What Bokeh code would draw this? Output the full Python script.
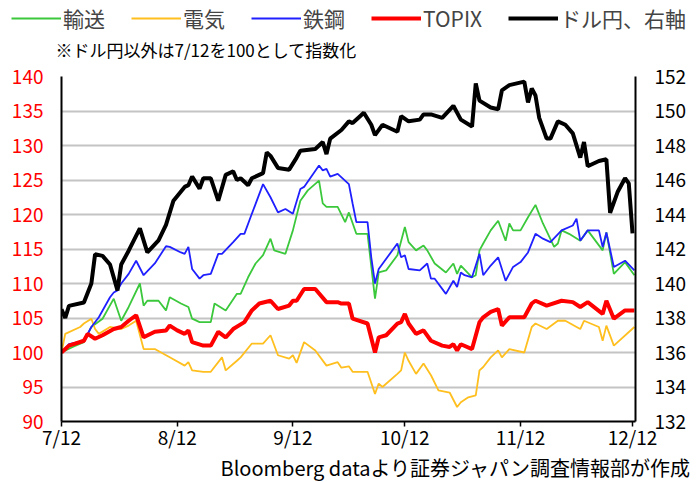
from bokeh.plotting import figure
from bokeh.layouts import column
from bokeh.models import Range1d, LinearAxis, FixedTicker, Legend, LegendItem, Label
from bokeh.embed import file_html
from bokeh.resources import INLINE

# x positions are days counted from 7/12
tick_days = [0, 31, 62, 92, 123, 153]
tick_labels = ["7/12", "8/12", "9/12", "10/12", "11/12", "12/12"]
left_ticks = [90, 95, 100, 105, 110, 115, 120, 125, 130, 135, 140]
right_ticks = [132, 134, 136, 138, 140, 142, 144, 146, 148, 150, 152]

series_names = ["輸送", "電気", "鉄鋼", "TOPIX", "ドル円、右軸"]

transport_days = [0, 3, 6, 8, 11, 14, 16, 18, 21, 22, 23, 26, 28, 29, 32, 34, 35, 37, 40, 41, 44, 47, 48, 50, 52,
                  54, 56, 57, 60, 62, 64, 66, 69, 70, 71, 74, 76, 77, 79, 82, 84, 85, 87, 90, 92, 93, 95, 97, 98, 100,
                  103, 105, 106, 107, 110, 111, 112, 113, 115, 117, 119, 120, 121, 123, 125, 127, 129, 132, 133, 134,
                  136, 139, 141, 145, 146, 148, 151, 153.5]
transport = [100.0, 100.8, 101.5, 103.7, 104.9, 107.8, 104.6, 106.6, 110.0, 106.8, 107.5, 107.5, 106.1, 108.0, 107.1,
             106.6, 104.9, 104.4, 104.4, 107.1, 106.1, 108.5, 108.5, 110.9, 112.9, 114.1, 116.5, 114.8, 114.3, 117.7,
             122.0, 123.5, 124.9, 121.6, 121.1, 121.1, 118.9, 120.3, 117.2, 117.2, 107.8, 111.6, 111.9, 114.1, 118.2,
             116.0, 114.8, 115.5, 114.8, 112.9, 111.6, 112.9, 111.4, 112.6, 110.9, 111.2, 114.8, 115.8, 117.7, 119.1,
             116.2, 118.7, 117.7, 117.7, 119.6, 121.4, 118.7, 115.3, 115.8, 117.7, 117.2, 116.2, 117.7, 114.8, 117.4,
             111.4, 113.1, 111.2]

electric_days = [0, 1, 5, 6, 8, 9, 10, 13, 16, 18, 20, 22, 25, 29, 33, 34, 35, 38, 40, 43, 44, 47, 48, 51, 54, 56, 58,
                 61, 62, 63, 65, 68, 71, 74, 75, 77, 78, 82, 84, 85, 86, 90, 91, 92, 93, 95, 97, 99, 101, 104, 106,
                 107, 109, 111, 112, 113, 115, 117, 118, 120, 124, 126, 127, 130, 133, 135, 139, 140, 144, 145, 146,
                 148, 153.5]
electric = [100.0, 102.7, 103.7, 104.2, 104.9, 103.4, 102.7, 103.7, 103.4, 103.9, 104.6, 100.5, 100.5, 99.3, 98.1,
            98.6, 97.4, 97.2, 97.2, 99.3, 97.4, 98.8, 99.3, 101.3, 101.3, 102.5, 99.6, 99.1, 99.6, 98.5, 101.5, 100.3,
            98.1, 98.6, 97.8, 98.0, 97.2, 97.2, 94.0, 95.5, 95.0, 96.9, 97.4, 100.0, 98.8, 96.9, 98.4, 96.7, 94.5, 94.2,
            92.1, 92.8, 93.5, 93.8, 97.4, 97.9, 99.3, 100.3, 99.3, 100.5, 100.0, 103.7, 104.2, 103.4, 104.6, 104.6,
            103.4, 104.6, 103.7, 101.7, 103.9, 101.0, 103.7]

steel_days = [0, 2, 6, 8, 10, 13, 14, 15, 16, 18, 20, 22, 25, 28, 29, 32, 33, 34, 35, 37, 38, 40, 42, 43, 46, 48, 49,
              51, 54, 56, 58, 60, 62, 64, 65, 69, 70, 71, 72, 74, 77, 78, 79, 82, 83, 84, 85, 90, 91, 92, 93, 96, 98,
              99, 100, 103, 105, 106, 107, 108, 110, 112, 113, 115, 117, 119, 121, 123, 125, 127, 129, 131, 134, 137,
              138, 139, 141, 144, 145, 146, 148, 151, 153.5]
steel = [100.0, 101.2, 101.7, 103.7, 105.1, 108.0, 108.7, 109.0, 110.0, 111.4, 113.3, 111.2, 112.9, 115.4, 115.3,
         114.5, 114.3, 115.3, 112.1, 110.7, 111.2, 111.4, 114.3, 114.3, 116.0, 117.2, 117.2, 120.1, 124.4, 122.5,
         120.3, 120.8, 120.1, 123.7, 124.0, 127.1, 126.4, 126.6, 125.5, 125.9, 124.4, 121.6, 118.9, 118.9, 113.8,
         110.0, 112.1, 115.8, 113.8, 114.1, 112.1, 111.9, 112.9, 110.7, 110.7, 108.5, 110.4, 109.5, 111.6, 111.2,
         110.9, 114.3, 111.2, 112.6, 113.8, 110.4, 112.4, 113.1, 114.5, 117.2, 116.5, 116.0, 117.7, 118.4, 119.4,
         116.2, 117.7, 117.7, 115.3, 117.4, 112.4, 113.3, 111.9]

topix_days = [0, 2, 6, 7, 9, 11, 14, 16, 18, 20, 22, 25, 28, 29, 31, 33, 34, 35, 38, 40, 42, 44, 46, 49, 51, 53, 56,
              58, 61, 62, 63, 65, 68, 71, 74, 75, 77, 78, 82, 84, 85, 87, 90, 91, 92, 93, 95, 97, 99, 102, 104, 105,
              106, 107, 110, 112, 113, 115, 117, 118, 120, 124, 126, 127, 130, 134, 137, 139, 141, 145, 146, 148, 151,
              153.5]
topix = [100.0, 101.0, 101.7, 102.7, 102.0, 102.5, 103.4, 103.7, 104.6, 105.4, 102.2, 103.0, 103.2, 103.9, 103.2,
         102.7, 103.2, 101.5, 101.0, 101.0, 103.0, 102.2, 103.4, 104.4, 106.1, 107.1, 107.5, 106.3, 106.8, 107.5,
         107.5, 109.2, 109.2, 107.3, 107.3, 107.1, 107.1, 104.9, 104.2, 100.0, 102.2, 102.5, 104.2, 104.4, 105.6,
         104.2, 102.7, 103.2, 101.7, 101.0, 100.8, 101.2, 100.3, 101.2, 100.5, 104.4, 105.1, 105.9, 106.3, 103.9,
         105.1, 105.1, 107.1, 107.5, 106.8, 107.5, 107.3, 106.6, 107.3, 105.6, 107.5, 104.9, 106.1, 106.1]

usdjpy_days = [0, 1, 2, 6, 8, 9, 11, 13, 15, 16, 18, 21, 23, 26, 28, 30, 33, 34, 35, 37, 38, 40, 42, 44, 46, 47, 48,
               50, 51, 54, 55, 56, 58, 61, 63, 64, 68, 70, 71, 72, 75, 77, 78, 80, 81, 83, 84, 86, 90, 91, 93, 96, 97,
               99, 102, 105, 107, 110, 111, 112, 115, 117, 118, 120, 124, 125, 126, 127, 128, 130, 131, 133, 135, 137,
               139, 140, 141, 144, 146, 147, 149, 151, 152, 153]
usdjpy = [138.5, 138.0, 138.7, 138.9, 140.0, 141.7, 141.6, 141.1, 139.6, 141.1, 141.9, 143.2, 141.8, 142.5, 143.4,
          144.8, 145.6, 145.7, 146.2, 145.5, 146.1, 146.1, 144.8, 146.3, 146.5, 146.0, 146.1, 145.7, 146.1, 146.4,
          147.6, 147.4, 146.7, 146.6, 147.3, 147.7, 147.8, 148.2, 147.5, 148.4, 148.9, 149.4, 149.3, 149.7, 149.9,
          149.2, 148.6, 149.2, 148.8, 149.7, 149.4, 149.5, 149.8, 149.8, 149.6, 150.3, 149.5, 149.1, 151.6, 150.6,
          150.2, 150.1, 151.2, 151.5, 151.7, 150.5, 151.3, 150.9, 149.6, 148.4, 148.4, 149.4, 149.2, 148.7, 147.3,
          148.2, 146.8, 147.1, 147.2, 144.1, 145.3, 146.1, 145.8, 142.9]

FONT = "Noto Sans CJK JP"
styles = [dict(line_color="#3cc83c", line_width=1.8),
          dict(line_color="#ffbf1f", line_width=1.8),
          dict(line_color="#2020ff", line_width=1.8),
          dict(line_color="#ff0000", line_width=4),
          dict(line_color="black", line_width=4)]

# ---------- header: legend + note ----------
hdr = figure(width=696, height=62, x_range=Range1d(0, 1), y_range=Range1d(0, 1),
             output_backend="svg", toolbar_location=None, x_axis_location=None, y_axis_location=None,
             min_border=0)
hdr.frame_align = False
hdr.outline_line_color = None
hdr.grid.visible = False
# legend keys only (no visible points: NaN)
key_renderers = [hdr.line(x=[float("nan")], y=[float("nan")], **st) for st in styles]
legend = Legend(items=[LegendItem(label=n, renderers=[r]) for n, r in zip(series_names, key_renderers)],
                location=(11, 29), orientation="horizontal", glyph_width=50, glyph_height=30,
                label_standoff=2, spacing=26, padding=0, margin=0,
                border_line_color=None, background_fill_alpha=0,
                label_text_font=FONT, label_text_font_size="21px", label_height=30)
hdr.add_layout(legend, "center")
note = Label(x=55, y=13, x_units="screen", y_units="screen",
             text="※ドル円以外は7/12を100として指数化", text_font=FONT, text_font_size="17px",
             text_baseline="middle", text_align="left", text_color="black")
hdr.add_layout(note)

# ---------- main chart ----------
p = figure(width=696, height=390, x_range=Range1d(0, 153.8), y_range=Range1d(90, 140),
           output_backend="svg", toolbar_location=None,
           min_border_left=61, min_border_right=61, min_border_top=14, min_border_bottom=31)
p.frame_align = False
p.extra_y_ranges = {"usd": Range1d(132, 152)}
p.outline_line_color = None

p.xaxis.ticker = FixedTicker(ticks=tick_days)
p.xaxis.major_label_overrides = {d: lab for d, lab in zip(tick_days, tick_labels)}
p.xaxis.axis_line_width = 2
p.xaxis.axis_line_color = "black"
p.xaxis.major_tick_out = 5
p.xaxis.major_tick_in = 0
p.xaxis.major_tick_line_width = 1.5
p.xaxis.minor_tick_line_color = None
p.xaxis.major_label_standoff = -4
p.xaxis.major_label_text_font = FONT
p.xaxis.major_label_text_font_size = "19px"
p.xaxis.major_label_text_color = "black"
p.xgrid.visible = False

p.yaxis.ticker = FixedTicker(ticks=left_ticks)
p.yaxis.axis_line_width = 2
p.yaxis.axis_line_color = "black"
p.yaxis.major_tick_line_color = None
p.yaxis.major_tick_out = 0
p.yaxis.major_tick_in = 0
p.yaxis.minor_tick_line_color = None
p.yaxis.major_label_standoff = 18
p.yaxis.major_label_text_font = FONT
p.yaxis.major_label_text_font_size = "19px"
p.yaxis.major_label_text_color = "#ff0000"
p.ygrid.grid_line_color = "#c4c4c4"
p.ygrid.grid_line_width = 2

raxis = LinearAxis(y_range_name="usd", ticker=FixedTicker(ticks=right_ticks))
raxis.axis_line_width = 2
raxis.axis_line_color = "black"
raxis.major_tick_line_color = None
raxis.major_tick_out = 0
raxis.major_tick_in = 0
raxis.minor_tick_line_color = None
raxis.major_label_standoff = 19
raxis.major_label_text_font = FONT
raxis.major_label_text_font_size = "19px"
raxis.major_label_text_color = "black"
p.add_layout(raxis, "right")

p.line(transport_days, transport, **styles[0])
p.line(electric_days, electric, **styles[1])
p.line(steel_days, steel, **styles[2])
p.line(topix_days, topix, **styles[3])
p.line(usdjpy_days, usdjpy, y_range_name="usd", **styles[4])

# ---------- footer: source ----------
ftr = figure(width=696, height=30, x_range=Range1d(0, 1), y_range=Range1d(0, 1),
             output_backend="svg", toolbar_location=None, x_axis_location=None, y_axis_location=None,
             min_border=0)
ftr.frame_align = False
ftr.outline_line_color = None
ftr.grid.visible = False
src = Label(x=690, y=15, x_units="screen", y_units="screen",
            text="Bloomberg dataより証券ジャパン調査情報部が作成", text_font=FONT, text_font_size="20px",
            text_baseline="middle", text_align="right", text_color="black")
ftr.add_layout(src)

layout = column(hdr, p, ftr, spacing=0)
open("out.html", "w").write(file_html(layout, INLINE))
